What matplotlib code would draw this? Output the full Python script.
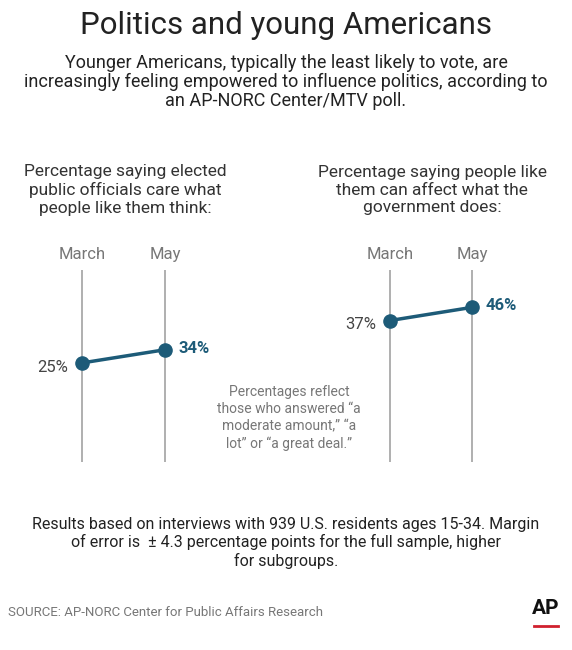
import matplotlib
matplotlib.use("Agg")
import matplotlib.pyplot as plt

plt.rcParams['font.family'] = ['Roboto', 'DejaVu Sans']

periods = ["March", "May"]
care_vals = [25, 34]
affect_vals = [37, 46]

W, H = 572, 650
fig = plt.figure(figsize=(W/100, H/100), dpi=100)
teal = "#1d5b78"

def fx(px): return px / W
def fy(py): return 1 - py / H

fig.text(0.5, fy(26), "Politics and young Americans", ha="center", va="center", fontsize=22.5, color="#222222")
fig.text(0.5, fy(82), "Younger Americans, typically the least likely to vote, are\nincreasingly feeling empowered to influence politics, according to\nan AP-NORC Center/MTV poll.",
         ha="center", va="center", fontsize=13, color="#222222", linespacing=1.05)

fig.text(fx(125), fy(190), "Percentage saying elected\npublic officials care what\npeople like them think:", ha="center", va="center",
         fontsize=12.5, color="#333333", linespacing=1.2)
fig.text(fx(432), fy(190), "Percentage saying people like\nthem can affect what the\ngovernment does:", ha="center", va="center",
         fontsize=12.5, color="#333333", linespacing=1.2)

def panel(left_px, right_px, xlim, ylim, vals):
    ax = fig.add_axes([fx(left_px), fy(462), (right_px-left_px)/W, 192/H])
    ax.set_xlim(*xlim); ax.set_ylim(*ylim); ax.axis("off")
    for i, p in enumerate(periods):
        ax.axvline(i, color="#9a9a9a", lw=1.1, zorder=1)
        ax.text(i, 1.04, p, transform=ax.get_xaxis_transform(), ha="center", va="bottom", fontsize=12, color="#777777")
    ax.plot([0, 1], vals, color=teal, lw=2.5, zorder=2)
    ax.scatter([0, 1], vals, s=90, color=teal, zorder=3)
    ax.annotate(f"{vals[0]}%", (0, vals[0]), xytext=(-10, -3), textcoords="offset points", ha="right", va="center", fontsize=12, color="#444444")
    ax.annotate(f"{vals[1]}%", (1, vals[1]), xytext=(10, 1), textcoords="offset points", ha="left", va="center", fontsize=12, color=teal, fontweight="bold")
    return ax

panel(40, 220, (-0.506, 1.663), (-42.6, 88.4), care_vals)
panel(340, 530, (-0.61, 1.707), (-59.6, 71.5), affect_vals)

fig.text(fx(289), fy(418), "Percentages reflect\nthose who answered \u201ca\nmoderate amount,\u201d \u201ca\nlot\u201d or \u201ca great deal.\u201d",
         ha="center", va="center", fontsize=10, color="#777777", linespacing=1.3)

fig.text(0.5, fy(543), "Results based on interviews with 939 U.S. residents ages 15-34. Margin\nof error is  \u00b1 4.3 percentage points for the full sample, higher\nfor subgroups.",
         ha="center", va="center", fontsize=11.5, color="#222222", linespacing=1.2)

fig.text(fx(8), fy(612), "SOURCE: AP-NORC Center for Public Affairs Research", ha="left", va="center", fontsize=9.5, color="#777777")
fig.text(fx(546), fy(609), "AP", ha="center", va="center", fontsize=15, fontweight="bold", color="#111111")
fig.add_artist(plt.Line2D([fx(534), fx(558)], [fy(626), fy(626)], color="#d0202e", lw=2))

fig.savefig("out.png", dpi=100, facecolor="white")
